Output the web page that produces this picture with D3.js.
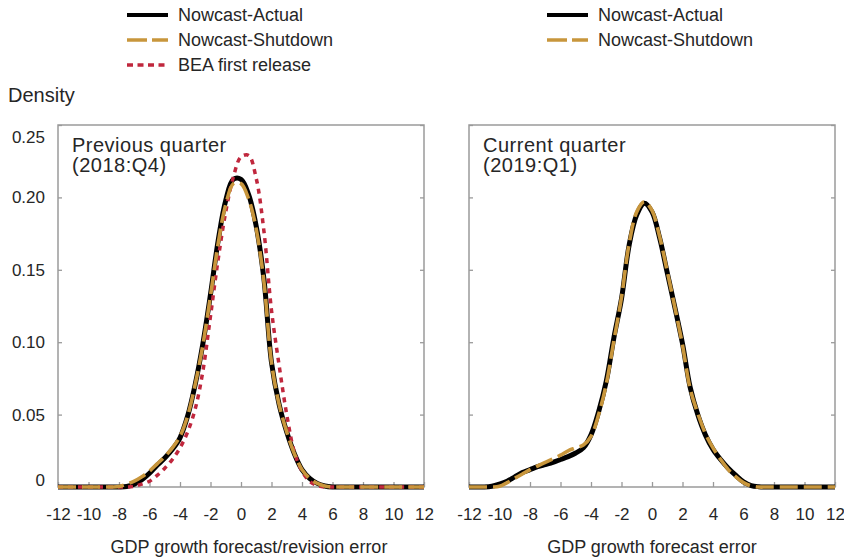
<!DOCTYPE html>
<html>
<head>
<meta charset="utf-8">
<script src="https://cdn.jsdelivr.net/npm/d3@7/dist/d3.min.js"></script>
<style>
  html, body { margin: 0; padding: 0; background: #fff; }
  svg { display: block; }
  text { font-family: "Liberation Sans", Arial, sans-serif; fill: #262626; }
</style>
</head>
<body>
<svg id="chart" width="844" height="557"></svg>
<script>
// Forecast/revision error grid (percentage points, annualized GDP growth)
const errorGrid = [-12, -11.5, -11, -10.5, -10, -9.5, -9, -8.5, -8, -7.5, -7, -6.5, -6, -5.5, -5, -4.5,
  -4, -3.5, -3, -2.5, -2, -1.5, -1, -0.5, 0, 0.5, 1, 1.5, 2, 2.5, 3, 3.5, 4, 4.5, 5, 5.5, 6, 6.5,
  7, 7.5, 8, 8.5, 9, 9.5, 10, 10.5, 11, 11.5, 12];

// Previous quarter (2018:Q4) densities
const prevActual = [0, 0, 0, 0, 0, 0, 0, 0, 0, 0.0003, 0.002, 0.005, 0.0095, 0.015, 0.020, 0.026,
  0.034, 0.049, 0.071, 0.099, 0.133, 0.170, 0.198, 0.2125, 0.2125, 0.202, 0.180, 0.144, 0.086, 0.057,
  0.038, 0.023, 0.012, 0.006, 0.0025, 0.0007, 0, 0, 0, 0, 0, 0, 0, 0, 0, 0, 0, 0, 0];
const prevShutdown = [0, 0, 0, 0, 0, 0, 0, 0, 0.0003, 0.002, 0.004, 0.007, 0.011, 0.016, 0.021, 0.027,
  0.035, 0.049, 0.071, 0.098, 0.132, 0.168, 0.195, 0.2095, 0.2095, 0.199, 0.178, 0.142, 0.086, 0.057,
  0.038, 0.023, 0.012, 0.006, 0.0025, 0.0007, 0, 0, 0, 0, 0, 0, 0, 0, 0, 0, 0, 0, 0];
const prevBEA = [0, 0, 0, 0, 0, 0, 0, 0, 0, 0, 0.0005, 0.002, 0.004, 0.008, 0.013, 0.019,
  0.027, 0.038, 0.054, 0.080, 0.118, 0.157, 0.190, 0.214, 0.228, 0.229, 0.213, 0.177, 0.122, 0.084,
  0.050, 0.024, 0.011, 0.004, 0.001, 0, 0, 0, 0, 0, 0, 0, 0, 0, 0, 0, 0, 0, 0];

// Current quarter (2019:Q1) densities
const currActual = [0, 0, 0, 0.0005, 0.002, 0.004, 0.007, 0.010, 0.012, 0.014, 0.0155, 0.017, 0.019, 0.021, 0.0235, 0.027,
  0.036, 0.052, 0.073, 0.103, 0.130, 0.167, 0.188, 0.196, 0.190, 0.172, 0.148, 0.124, 0.099, 0.069,
  0.050, 0.036, 0.026, 0.019, 0.013, 0.008, 0.0035, 0.001, 0.0002, 0, 0, 0, 0, 0, 0, 0, 0, 0, 0];
const currShutdown = [0, 0, 0, 0, 0.0005, 0.003, 0.006, 0.009, 0.012, 0.0145, 0.017, 0.0195, 0.022, 0.025, 0.027, 0.029,
  0.035, 0.050, 0.071, 0.101, 0.131, 0.168, 0.190, 0.197, 0.191, 0.173, 0.149, 0.124, 0.098, 0.068,
  0.051, 0.037, 0.027, 0.019, 0.012, 0.007, 0.003, 0.0008, 0, 0, 0, 0, 0, 0, 0, 0, 0, 0, 0];

const xTickValues = [-12, -10, -8, -6, -4, -2, 0, 2, 4, 6, 8, 10, 12];
const yTickValues = [0, 0.05, 0.10, 0.15, 0.20, 0.25];
const yTickLabels = ["0", "0.05", "0.10", "0.15", "0.20", "0.25"];

const seriesNames = ["Nowcast-Actual", "Nowcast-Shutdown", "BEA first release"];
const panelTitles = [["Previous quarter", "(2018:Q4)"], ["Current quarter", "(2019:Q1)"]];
const axisTitles = ["GDP growth forecast/revision error", "GDP growth forecast error"];

const styles = {
  "Nowcast-Actual": { color: "#000000", width: 5, dash: null },
  "BEA first release": { color: "#c0273d", width: 3.5, dash: "5,5" },
  "Nowcast-Shutdown": { color: "#c8963c", width: 3.6, dash: "18,6" }
};

const svg = d3.select("#chart");

const panels = [
  { left: 58, series: [["Nowcast-Actual", prevActual], ["BEA first release", prevBEA], ["Nowcast-Shutdown", prevShutdown]],
    title: panelTitles[0], axisTitle: axisTitles[0], axisTitleX: 249, yLabels: true },
  { left: 469, series: [["Nowcast-Actual", currActual], ["Nowcast-Shutdown", currShutdown]],
    title: panelTitles[1], axisTitle: axisTitles[1], axisTitleX: 652, yLabels: false }
];

const plotTop = 125, plotBottom = 487, plotWidth = 366;

const y = d3.scaleLinear().domain([0, 0.25]).range([plotBottom, plotTop]);

panels.forEach(p => {
  const x = d3.scaleLinear().domain([-12, 12]).range([p.left, p.left + plotWidth]);
  const g = svg.append("g");

  // frame
  g.append("rect")
    .attr("x", p.left).attr("y", plotTop)
    .attr("width", plotWidth).attr("height", plotBottom - plotTop)
    .attr("fill", "none").attr("stroke", "#9a9a9a").attr("stroke-width", 1.5);

  // x axis: inward ticks, labels below
  const xAxis = g.append("g").attr("transform", `translate(0,${plotBottom})`)
    .call(d3.axisBottom(x).tickValues(xTickValues).tickSize(-5).tickPadding(21)
      .tickFormat(d => String(d)));
  xAxis.select(".domain").remove();
  xAxis.selectAll(".tick line").attr("stroke", "#9a9a9a").attr("stroke-width", 1.3);
  xAxis.selectAll(".tick text").attr("font-size", 17).attr("fill", "#262626")
    .attr("font-family", "Liberation Sans, Arial, sans-serif");

  // y axis, left side
  const yAxisL = g.append("g").attr("transform", `translate(${p.left},0)`)
    .call(d3.axisLeft(y).tickValues(yTickValues).tickSize(-4).tickPadding(13)
      .tickFormat((d, i) => p.yLabels ? yTickLabels[i] : ""));
  yAxisL.select(".domain").remove();
  yAxisL.selectAll(".tick line").attr("stroke", "#9a9a9a").attr("stroke-width", 1.3);
  yAxisL.selectAll(".tick text").attr("font-size", 17).attr("fill", "#262626")
    .attr("font-family", "Liberation Sans, Arial, sans-serif")
    .attr("dy", d => d === 0.25 ? "1.02em" : d === 0 ? "-0.1em" : "0.32em");

  // y axis, right side (ticks only)
  const yAxisR = g.append("g").attr("transform", `translate(${p.left + plotWidth},0)`)
    .call(d3.axisRight(y).tickValues(yTickValues).tickSize(-4).tickFormat(""));
  yAxisR.select(".domain").remove();
  yAxisR.selectAll(".tick line").attr("stroke", "#9a9a9a").attr("stroke-width", 1.3);

  // density curves
  const line = d3.line()
    .x((d, i) => x(errorGrid[i]))
    .y(d => y(Math.max(0, d)))
    .curve(d3.curveCatmullRom.alpha(0.5));

  p.series.forEach(([name, values]) => {
    const s = styles[name];
    g.append("path")
      .datum(values)
      .attr("d", line)
      .attr("fill", "none")
      .attr("stroke", s.color)
      .attr("stroke-width", s.width)
      .attr("stroke-linejoin", "round")
      .attr("stroke-dasharray", s.dash);
  });

  // panel title
  const t = g.append("text").attr("x", p.left + 14).attr("y", 152)
    .attr("font-size", 20).attr("letter-spacing", 0.5);
  t.append("tspan").attr("x", p.left + 14).text(p.title[0]);
  t.append("tspan").attr("x", p.left + 14).attr("y", 172).text(p.title[1]);

  // axis title
  g.append("text").attr("x", p.axisTitleX).attr("y", 553)
    .attr("text-anchor", "middle").attr("font-size", 18).text(p.axisTitle);
});

// y axis title
svg.append("text").attr("x", 8).attr("y", 102).attr("font-size", 20).text("Density");

// legends
const legends = [
  { x: 127, names: seriesNames },
  { x: 547, names: seriesNames.slice(0, 2) }
];
legends.forEach(L => {
  L.names.forEach((name, i) => {
    const s = styles[name];
    const cy = 15 + i * 25;
    svg.append("line")
      .attr("x1", L.x).attr("x2", L.x + 41)
      .attr("y1", cy).attr("y2", cy)
      .attr("stroke", s.color)
      .attr("stroke-width", name === "Nowcast-Actual" ? 4 : 3.5)
      .attr("stroke-dasharray", name === "Nowcast-Shutdown" ? "20,5" : name === "BEA first release" ? "6,4.5" : null);
    svg.append("text")
      .attr("x", L.x + 51).attr("y", cy).attr("dy", "0.35em")
      .attr("font-size", 18).text(name);
  });
});
</script>
</body>
</html>
